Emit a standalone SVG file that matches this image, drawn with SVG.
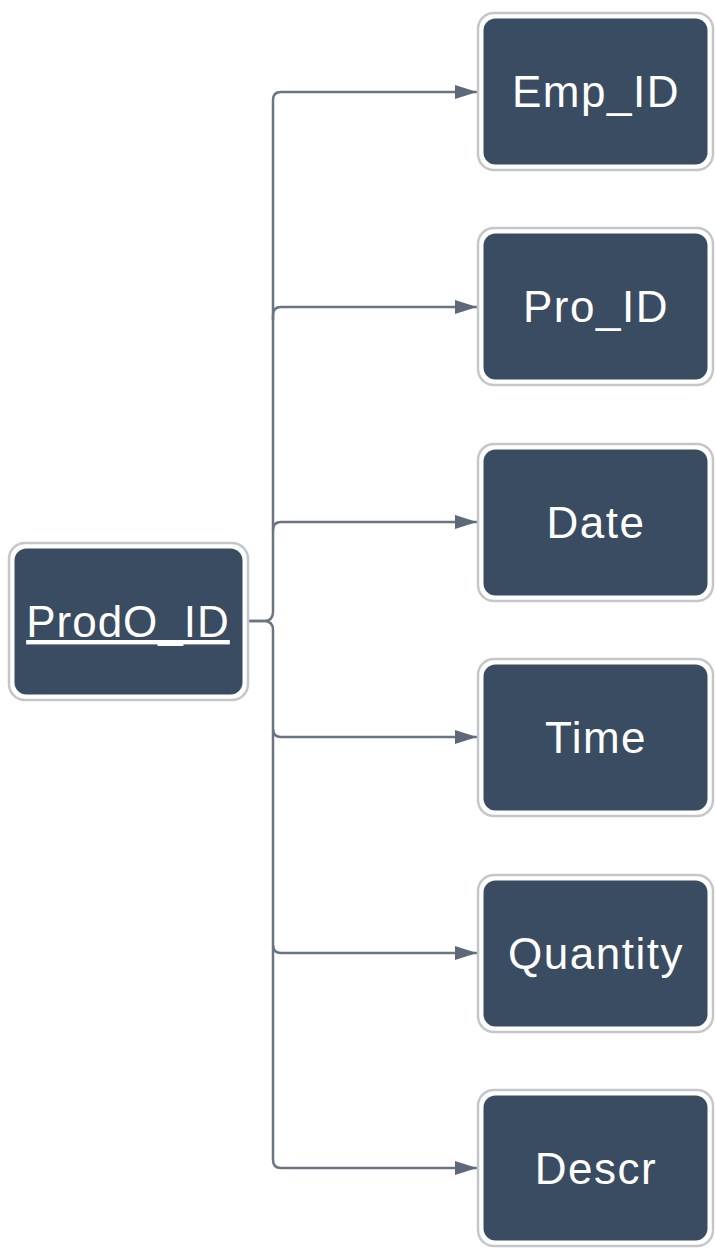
<svg xmlns="http://www.w3.org/2000/svg" width="715" height="1248" viewBox="0 0 715 1248">
<style>
.outer{fill:#ffffff;stroke:#c4c6c9;stroke-width:2.5}
.inner{fill:#3a4c61}
.lbl{font-family:"Liberation Sans",Arial,sans-serif;font-size:44px;fill:#ffffff;text-anchor:middle;letter-spacing:1.5px}
.conn{fill:none;stroke:#6b7482;stroke-width:2.5}
</style>
<defs>
<marker id="arr" markerWidth="24" markerHeight="16" refX="22" refY="7" orient="auto" markerUnits="userSpaceOnUse">
<path d="M0,0 L22,7 L0,14 Z" fill="#5d6878"/>
</marker>
</defs>
<rect width="715" height="1248" fill="#ffffff"/>
<g id="connectors">
<path class="conn" d="M248,621 H264 Q273,621 273,612 V100 Q273,92 281,92 H477" marker-end="url(#arr)"/>
<path class="conn" d="M273,320 V315 Q273,307 281,307 H477" marker-end="url(#arr)"/>
<path class="conn" d="M273,530 Q273,522 281,522 H477" marker-end="url(#arr)"/>
<path class="conn" d="M248,621 H264 Q273,621 273,630 V1160 Q273,1168 281,1168 H477" marker-end="url(#arr)"/>
<path class="conn" d="M273,729 Q273,737 281,737 H477" marker-end="url(#arr)"/>
<path class="conn" d="M273,945 Q273,953 281,953 H477" marker-end="url(#arr)"/>
</g>
<g id="ProdO_ID">
<rect class="outer" x="9" y="543" width="239" height="157" rx="16"/>
<rect class="inner" x="14.5" y="548.5" width="228" height="146" rx="12"/>
<text class="lbl" x="128" y="637" text-decoration="underline" style="letter-spacing:1px">ProdO_ID</text>
</g>
<g id="Emp_ID">
<rect class="outer" x="478" y="13" width="235" height="157" rx="16"/>
<rect class="inner" x="483.5" y="18.5" width="224" height="146" rx="12"/>
<text class="lbl" x="596" y="107">Emp_ID</text>
</g>
<g id="Pro_ID">
<rect class="outer" x="478" y="228" width="235" height="157" rx="16"/>
<rect class="inner" x="483.5" y="233.5" width="224" height="146" rx="12"/>
<text class="lbl" x="596" y="322">Pro_ID</text>
</g>
<g id="Date">
<rect class="outer" x="478" y="444" width="235" height="157" rx="16"/>
<rect class="inner" x="483.5" y="449.5" width="224" height="146" rx="12"/>
<text class="lbl" x="596" y="538">Date</text>
</g>
<g id="Time">
<rect class="outer" x="478" y="659" width="235" height="157" rx="16"/>
<rect class="inner" x="483.5" y="664.5" width="224" height="146" rx="12"/>
<text class="lbl" x="596" y="753">Time</text>
</g>
<g id="Quantity">
<rect class="outer" x="478" y="875" width="235" height="157" rx="16"/>
<rect class="inner" x="483.5" y="880.5" width="224" height="146" rx="12"/>
<text class="lbl" x="596" y="969">Quantity</text>
</g>
<g id="Descr">
<rect class="outer" x="478" y="1090" width="235" height="156" rx="16"/>
<rect class="inner" x="483.5" y="1095.5" width="224" height="145" rx="12"/>
<text class="lbl" x="596" y="1184">Descr</text>
</g>
</svg>
